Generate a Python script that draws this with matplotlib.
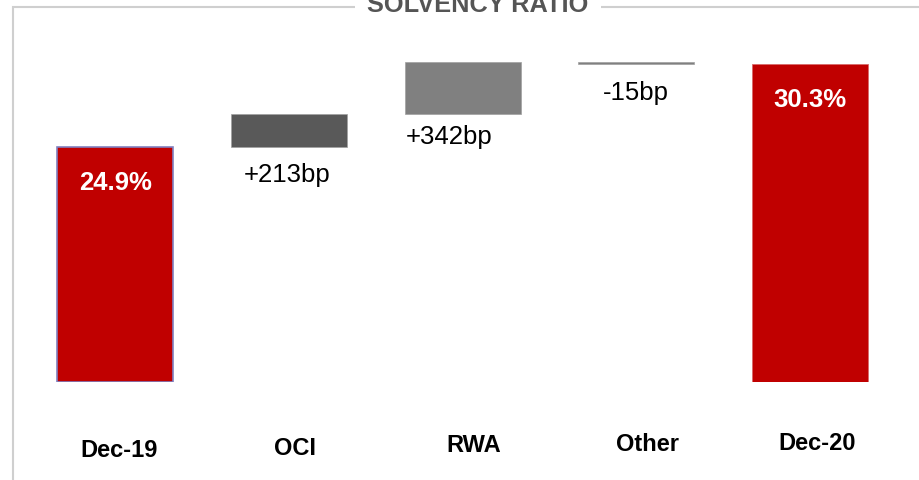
import matplotlib.pyplot as plt
from matplotlib.patches import Rectangle
from matplotlib.transforms import blended_transform_factory

plt.rcParams["font.family"] = ["Liberation Sans", "DejaVu Sans"]

categories = ["Dec-19", "OCI", "RWA", "Other", "Dec-20"]
start_ratio = 24.9
changes_bp = [213, 342, -15]
end_ratio = 30.3
change_labels = ["+213bp", "+342bp", "-15bp"]
total_labels = ["24.9%", "30.3%"]

RED = "#c00000"
step_colors = ["#595959", "#808080", "#808080"]
BASE = 9.6

fig = plt.figure(figsize=(9.19, 4.8), dpi=100)
ax = fig.add_axes([0.0312, 0.2042, 0.9446, 0.7333])
ax.set_xlim(-0.5, 4.5)
ax.set_ylim(BASE, BASE + 352 / 15.37)
ax.axis("off")

w = 0.668

# totals on both ends
ax.bar(0, start_ratio - BASE, bottom=BASE, width=w, color=RED,
       edgecolor="#8080c0", linewidth=1.2)
ax.bar(4, end_ratio - BASE, bottom=BASE, width=w, color=RED,
       edgecolor="#d86a6a", linewidth=0.6)

# floating steps
level = start_ratio
for i, (bp, col) in enumerate(zip(changes_bp, step_colors)):
    d = bp / 100
    ax.bar(i + 1, d, bottom=level, width=w, color=col,
           edgecolor="#a0a0a0", linewidth=0.5)
    level += d

# value labels
for x, val, txt in [(0, start_ratio, total_labels[0]), (4, end_ratio, total_labels[1])]:
    ax.annotate(txt, (x, val), xytext=(0, -26), textcoords="offset points",
                ha="center", va="center", color="white", fontsize=18.5,
                fontweight="bold")

step_offsets = [(-1.5, -25), (-10, -21.5), (0, -26)]
level = start_ratio
for i, (bp, txt, off) in enumerate(zip(changes_bp, change_labels, step_offsets)):
    d = bp / 100
    low = min(level, level + d)
    ax.annotate(txt, (i + 1, low), xytext=off, textcoords="offset points",
                ha="center", va="baseline", color="black", fontsize=18.5)
    level += d

# category names under the bars
trans = blended_transform_factory(ax.transData, ax.transAxes)
cat_offsets = [(2.5, -54), (4.3, -52.5), (8, -50.5), (8, -49.5), (5, -49)]
for i, (name, off) in enumerate(zip(categories, cat_offsets)):
    ax.annotate(name, (i, 0), xycoords=trans, xytext=off,
                textcoords="offset points", ha="center", va="baseline",
                fontsize=17, fontweight="bold", color="black")

# frame and title
fig.patches.append(Rectangle((13 / 919, -0.1), 1.0, 1 - 7 / 480 + 0.1,
                             transform=fig.transFigure, fill=False,
                             edgecolor="#cfcfcf", linewidth=1.5))
fig.text(478 / 919, 1 - 12 / 480, "SOLVENCY RATIO", ha="center", va="baseline",
         fontsize=18.3, fontweight="bold", color="#555555",
         bbox=dict(facecolor="white", edgecolor="none", pad=9))

fig.savefig("out.png", dpi=100)
